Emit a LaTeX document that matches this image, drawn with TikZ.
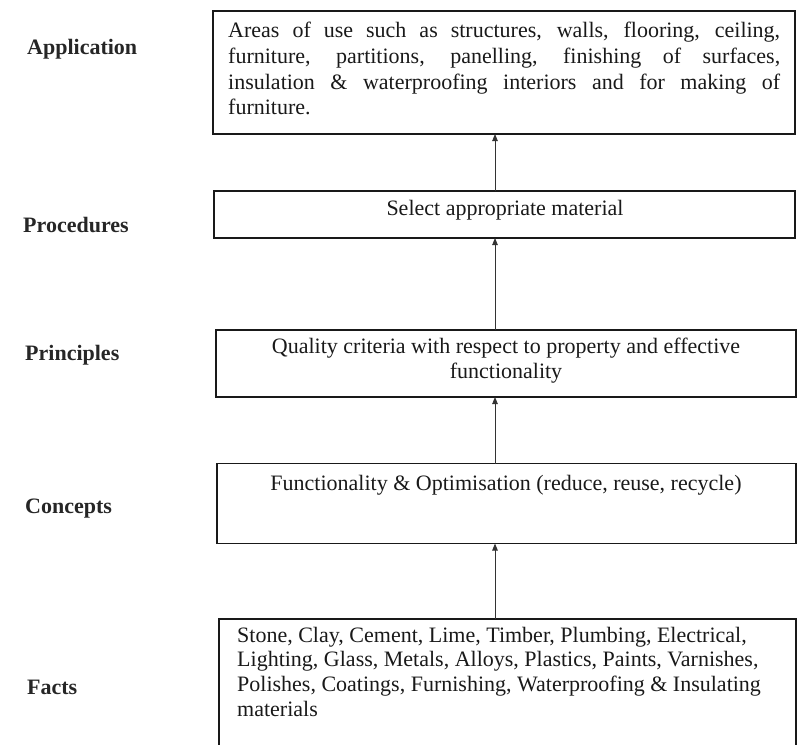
\documentclass[tikz,border=0pt]{standalone}
\usepackage{fontspec}
\setmainfont{Liberation Serif}
\usetikzlibrary{arrows.meta}
\begin{document}
\begin{tikzpicture}[x=1bp,y=-1bp,
  box/.style={draw=black!90, line width=1.1bp, anchor=north west, inner sep=0pt, outer sep=0pt},
  txt/.style={inner sep=0pt, anchor=base, text=black!90, font=\fontsize{22bp}{25.6bp}\selectfont},
  lbl/.style={inner sep=0pt, anchor=base west, text=black!85, font=\fontsize{22bp}{26bp}\selectfont\bfseries},
  arr/.style={draw=black!80, line width=0.9bp, -{Triangle[width=5.5bp,length=7bp]}}]
\useasboundingbox (0,0) rectangle (798,745);
% boxes
\node[box, minimum width=582bp, minimum height=123bp] (app) at (213,11) {};
\node[box, minimum width=581bp, minimum height=47bp] (proc) at (214,191) {};
\node[box, minimum width=580bp, minimum height=67bp] (princ) at (216,330) {};
\node[box, minimum width=579bp, minimum height=80bp] (conc) at (217,463.5) {};
\node[box, minimum width=577bp, minimum height=140bp] (facts) at (219,619) {};
% texts
\node[txt, anchor=base west] (appt) at (228,38) {\parbox[t]{552bp}{\tolerance=10000\hbadness=10000\hyphenpenalty=10000
Areas of use such as structures, walls, flooring, ceiling,\linebreak
furniture, partitions, panelling, finishing of surfaces,\linebreak
insulation \& waterproofing interiors and for making of\linebreak
furniture.}};
\node[txt] (proct) at (505,215) {Select appropriate material};
\node[txt] (princt) at (506,353) {\parbox[t]{560bp}{\centering
Quality criteria with respect to property and effective\\
functionality}};
\node[txt] (conct) at (506,490) {Functionality \& Optimisation (reduce, reuse, recycle)};
\node[txt, anchor=base west] (factst) at (237,642) {\parbox[t]{555bp}{\raggedright\baselineskip=24.7bp
Stone, Clay, Cement, Lime, Timber, Plumbing, Electrical,\\
Lighting, Glass, Metals, Alloys, Plastics, Paints, Varnishes,\\
Polishes, Coatings, Furnishing, Waterproofing \& Insulating\\
materials}};
% labels
\node[lbl] (l1) at (27,55) {Application};
\node[lbl] (l2) at (23,232) {Procedures};
\node[lbl] (l3) at (25,360) {Principles};
\node[lbl] (l4) at (25,513) {Concepts};
\node[lbl] (l5) at (27,694) {Facts};
% arrows
\coordinate (ax) at (495,0);
\draw[arr] (proc.north -| ax) -- (app.south -| ax);
\draw[arr] (princ.north -| ax) -- (proc.south -| ax);
\draw[arr] (conc.north -| ax) -- (princ.south -| ax);
\draw[arr] (facts.north -| ax) -- (conc.south -| ax);
\end{tikzpicture}
\end{document}
